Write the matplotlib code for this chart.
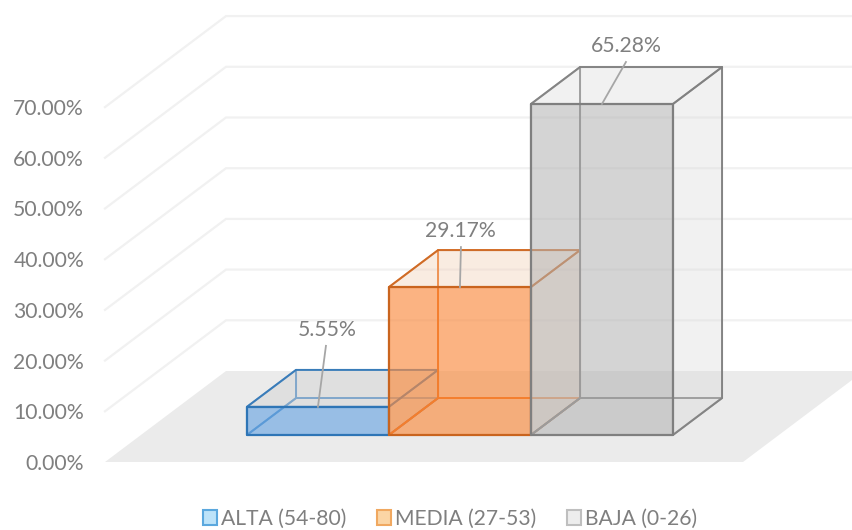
import matplotlib
matplotlib.use("Agg")
import matplotlib.pyplot as plt
from matplotlib.patches import Polygon, Patch

categories = ["ALTA (54-80)", "MEDIA (27-53)", "BAJA (0-26)"]
values = [5.55, 29.17, 65.28]
value_labels = ["5.55%", "29.17%", "65.28%"]
ticks = [0, 10, 20, 30, 40, 50, 60, 70]
tick_labels = ["0.00%", "10.00%", "20.00%", "30.00%", "40.00%", "50.00%", "60.00%", "70.00%"]

# oblique projection (scale parameters, in output pixels)
X0, Y0 = 105.0, 462.0      # front-left floor corner
CAT_W = 142.0              # width of one bar
FLOOR_PAD = 106.0 / 142.0  # floor margin beside the bars, in bar widths
PX_PER_PCT = 5.07
DEPTH_X, DEPTH_Y = 121.0, 91.0
D0, D1 = 0.297, 0.703      # bar depth range within the floor
N = len(categories)


def proj(u, d, v):
    return (X0 + CAT_W * (u + FLOOR_PAD) + DEPTH_X * d, Y0 - PX_PER_PCT * v - DEPTH_Y * d)


fig = plt.figure(figsize=(8.52, 5.30), dpi=100)
ax = fig.add_axes([0, 0, 1, 1])
ax.set_xlim(0, 852)
ax.set_ylim(530, 0)
ax.axis("off")
plt.rcParams["font.family"] = ["Lato", "DejaVu Sans"]
TXT = "#7F7F7F"
FS = 15.2
UL, UR = -FLOOR_PAD, N + FLOOR_PAD

# floor
ax.add_patch(Polygon([proj(UL, 0, 0), proj(UR, 0, 0), proj(UR, 1, 0), proj(UL, 1, 0)],
                     closed=True, fc="#EBEBEB", ec="none", zorder=1))

# gridlines on the walls
for t, lab in zip(ticks, tick_labels):
    if t > 0:
        pts = [proj(UL, 0, t), proj(UL, 1, t), proj(UR, 1, t)]
        ax.plot(*zip(*pts), color="#F1F1F1", lw=1.6, zorder=1, solid_joinstyle="miter")
    x, y = proj(UL, 0, t)
    ax.text(x - 21, y + 2, lab, ha="right", va="center", color=TXT, fontsize=FS)

# per-series styling
front_fill = ["#5AA0E6", "#FB7F2A", "#ABABAB"]
face_fill = ["#D6D6D6", "#F4D5BE", "#DADADA"]
edge = ["#2E75B6", "#C9641E", "#7F7F7F"]
rear_edge = ["#5B93C7", "#ED7D31", "#909090"]
front_alpha = [0.55, 0.55, 0.45]
side_alpha = [0.3, 0.25, 0.2]
swatch = ["#BDE3F9", "#FBD5A5", "#EDEDED"]
swatch_edge = ["#5BA8DE", "#F0A860", "#BFBFBF"]

# leader-line ends and label anchors relative to each bar's front-top centre
label_dx = [9, 0, 24]
label_dy = [-78, -57, -59]
leader_dx = [8, 1, 24]
leader_dy = [-61, -40, -42]

for i, v in enumerate(values):
    u0, u1 = i, i + 1
    base = [proj(u0, D0, 0), proj(u1, D0, 0), proj(u1, D1, 0), proj(u0, D1, 0)]
    top = [proj(u0, D0, v), proj(u1, D0, v), proj(u1, D1, v), proj(u0, D1, v)]
    z = 3 + i
    faces_back = [
        [base[3], base[2], top[2], top[3]],   # rear
        [base[0], base[3], top[3], top[0]],   # left
        base,                                 # floor
    ]
    for f in faces_back:
        ax.add_patch(Polygon(f, closed=True, fc=face_fill[i], alpha=side_alpha[i], ec="none", zorder=z))
        ax.add_patch(Polygon(f, closed=True, fill=False, ec=rear_edge[i], lw=1.4, alpha=0.85,
                             zorder=z + 0.1, joinstyle="round"))
    for f in ([base[1], base[2], top[2], top[1]], top):
        ax.add_patch(Polygon(f, closed=True, fc=face_fill[i], alpha=side_alpha[i], ec="none", zorder=z + 0.2))
        ax.add_patch(Polygon(f, closed=True, fill=False, ec=edge[i], lw=1.4, alpha=0.85, zorder=z + 0.3,
                             joinstyle="round"))
    f = [base[0], base[1], top[1], top[0]]
    ax.add_patch(Polygon(f, closed=True, fc=front_fill[i], alpha=front_alpha[i], ec="none", zorder=z + 0.4))
    ax.add_patch(Polygon(f, closed=True, fill=False, ec=edge[i], lw=1.6, zorder=z + 0.5,
                         joinstyle="round"))
    # data label with leader line
    cx, cy = proj(i + 0.5, D0, v)
    ax.plot([cx, cx + leader_dx[i]], [cy, cy + leader_dy[i]], color="#A6A6A6", lw=1.3, zorder=10)
    ax.text(cx + label_dx[i], cy + label_dy[i] + 1, value_labels[i], ha="center", va="center",
            color=TXT, fontsize=FS, zorder=11)

handles = [Patch(fc=swatch[i], ec=swatch_edge[i], lw=1.5, label=categories[i]) for i in range(N)]
leg = ax.legend(handles=handles, loc="center", bbox_to_anchor=(450 / 852, 1 - 519 / 530), ncol=N,
                frameon=False, fontsize=FS, labelcolor=TXT, handlelength=0.66, handleheight=0.66,
                handletextpad=0.2, columnspacing=1.45, borderpad=0, borderaxespad=0)

fig.savefig("out.png", dpi=100)
